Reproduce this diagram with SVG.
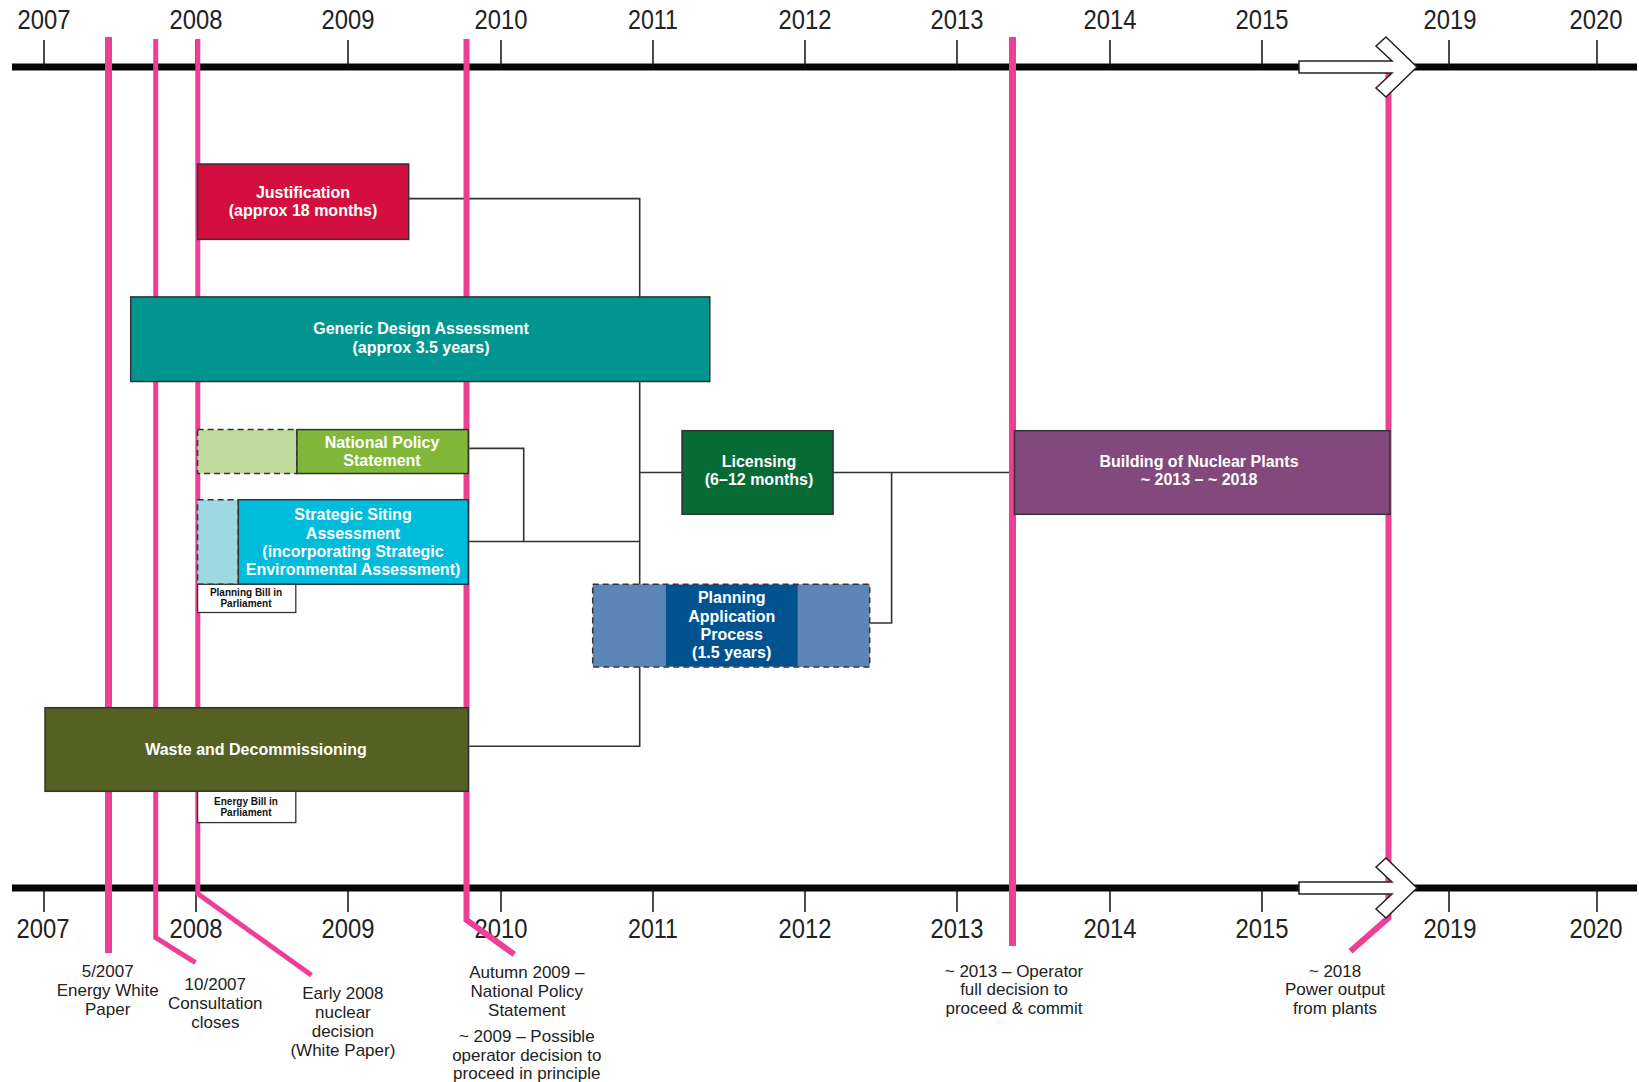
<svg xmlns="http://www.w3.org/2000/svg" width="1639" height="1082" viewBox="0 0 1639 1082">
<style>
.bar{fill:#050505}
.tick{stroke:#111;stroke-width:1.5}
.yr{font-family:"Liberation Sans",Arial,sans-serif;font-size:27px;fill:#222;text-anchor:middle}
.pink{stroke:#ec3f95;fill:none;stroke-linejoin:miter}
.conn{stroke:#333;stroke-width:1.6;fill:none}
.box{stroke:#333;stroke-width:1.5}
.dash{stroke:#333;stroke-width:1.5;stroke-dasharray:6 4}
.bt{font-family:"Liberation Sans",Arial,sans-serif;font-weight:bold;font-size:16px;fill:#fff;text-anchor:middle}
.st{font-family:"Liberation Sans",Arial,sans-serif;font-weight:bold;font-size:10px;fill:#111;text-anchor:middle}
.ann{font-family:"Liberation Sans",Arial,sans-serif;font-size:17px;fill:#222;text-anchor:middle}
.arrow{fill:#fff;stroke:#222;stroke-width:1.5;stroke-linejoin:miter}
</style>
<rect width="1639" height="1082" fill="#fff"/>

<g id="connectors">
<path class="conn" d="M408.7,198.6 H639.7 V746.3 H468.3"/>
<path class="conn" d="M639.7,472.5 H681.5"/>
<path class="conn" d="M468.3,448.4 H523.7 V541.5"/>
<path class="conn" d="M468.3,541.5 H639.7"/>
<path class="conn" d="M833.1,472.5 H1014"/>
<path class="conn" d="M869.7,623 H891.6 V472.5"/>
</g>

<g id="axis-top">
<rect class="bar" x="12" y="63.5" width="1625" height="7"/>
<path class="tick" d="M44,40V67M196,40V67M348,40V67M501,40V67M653,40V67M805,40V67M957,40V67M1110,40V67M1262,40V67M1449,40V67M1597,40V67"/>
<text class="yr" x="44" y="29" textLength="53" lengthAdjust="spacingAndGlyphs">2007</text>
<text class="yr" x="196" y="29" textLength="53" lengthAdjust="spacingAndGlyphs">2008</text>
<text class="yr" x="348" y="29" textLength="53" lengthAdjust="spacingAndGlyphs">2009</text>
<text class="yr" x="501" y="29" textLength="53" lengthAdjust="spacingAndGlyphs">2010</text>
<text class="yr" x="653" y="29" textLength="50" lengthAdjust="spacingAndGlyphs">2011</text>
<text class="yr" x="805" y="29" textLength="53" lengthAdjust="spacingAndGlyphs">2012</text>
<text class="yr" x="957" y="29" textLength="53" lengthAdjust="spacingAndGlyphs">2013</text>
<text class="yr" x="1110" y="29" textLength="53" lengthAdjust="spacingAndGlyphs">2014</text>
<text class="yr" x="1262" y="29" textLength="53" lengthAdjust="spacingAndGlyphs">2015</text>
<text class="yr" x="1450" y="29" textLength="53" lengthAdjust="spacingAndGlyphs">2019</text>
<text class="yr" x="1596" y="29" textLength="53" lengthAdjust="spacingAndGlyphs">2020</text>
</g>

<g id="axis-bottom">
<rect class="bar" x="12" y="884.5" width="1625" height="7"/>
<path class="tick" d="M44,888V912M196,888V912M348,888V912M501,888V912M653,888V912M805,888V912M957,888V912M1110,888V912M1262,888V912M1449,888V912M1597,888V912"/>
<text class="yr" x="43" y="938" textLength="53" lengthAdjust="spacingAndGlyphs">2007</text>
<text class="yr" x="196" y="938" textLength="53" lengthAdjust="spacingAndGlyphs">2008</text>
<text class="yr" x="348" y="938" textLength="53" lengthAdjust="spacingAndGlyphs">2009</text>
<text class="yr" x="501" y="938" textLength="53" lengthAdjust="spacingAndGlyphs">2010</text>
<text class="yr" x="653" y="938" textLength="50" lengthAdjust="spacingAndGlyphs">2011</text>
<text class="yr" x="805" y="938" textLength="53" lengthAdjust="spacingAndGlyphs">2012</text>
<text class="yr" x="957" y="938" textLength="53" lengthAdjust="spacingAndGlyphs">2013</text>
<text class="yr" x="1110" y="938" textLength="53" lengthAdjust="spacingAndGlyphs">2014</text>
<text class="yr" x="1262" y="938" textLength="53" lengthAdjust="spacingAndGlyphs">2015</text>
<text class="yr" x="1450" y="938" textLength="53" lengthAdjust="spacingAndGlyphs">2019</text>
<text class="yr" x="1596" y="938" textLength="53" lengthAdjust="spacingAndGlyphs">2020</text>
</g>

<g id="milestone-lines">
<path class="pink" stroke-width="7" d="M108.5,37V953"/>
<path class="pink" stroke-width="5" d="M155.7,39V937.6L195.5,962.7"/>
<path class="pink" stroke-width="5" d="M197.8,39V893.7L311.5,975.3"/>
<path class="pink" stroke-width="6" d="M466.5,39V919.9L514.3,954.4"/>
<path class="pink" stroke-width="7" d="M1012.5,37V946"/>
<path class="pink" stroke-width="6" d="M1388.5,67V917.8L1350.5,951.2"/>
</g>

<g id="arrow-top">
<polygon class="arrow" points="1299,61 1392,61 1376,46 1386,37 1417,67 1386,97 1376,88 1392,73 1299,73"/>
</g>
<g id="arrow-bottom">
<polygon class="arrow" points="1299,882 1392,882 1376,867 1386,858 1417,888 1386,918 1376,909 1392,894 1299,894"/>
</g>

<g id="justification">
<rect class="box" x="197.6" y="164" width="211.1" height="75.4" fill="#d20f3f"/>
<text class="bt" x="303" y="198">Justification</text>
<text class="bt" x="303" y="216">(approx 18 months)</text>
</g>

<g id="gda">
<rect class="box" x="130.7" y="296.9" width="579.1" height="84.6" fill="#00968f"/>
<text class="bt" x="421" y="334">Generic Design Assessment</text>
<text class="bt" x="421" y="353">(approx 3.5 years)</text>
</g>

<g id="nps">
<rect class="dash" x="197.6" y="429.6" width="99.3" height="43.9" fill="#c0da9b"/>
<rect class="box" x="296.9" y="429.6" width="171.4" height="43.9" fill="#82b83a"/>
<text class="bt" x="382" y="448">National Policy</text>
<text class="bt" x="382" y="466">Statement</text>
</g>

<g id="ssa">
<rect class="dash" x="197.6" y="499.7" width="40.7" height="84.6" fill="#9fd8e0"/>
<rect class="box" x="238.3" y="499.7" width="230" height="84.6" fill="#00bcdc"/>
<text class="bt" x="353" y="520">Strategic Siting</text>
<text class="bt" x="353" y="538.5">Assessment</text>
<text class="bt" x="353" y="557">(incorporating Strategic</text>
<text class="bt" x="353" y="575">Environmental Assessment)</text>
</g>

<g id="planning-bill">
<rect x="197.6" y="584.3" width="98.2" height="28.2" fill="#fff" stroke="#333" stroke-width="1.3"/>
<text class="st" x="246" y="596">Planning Bill in</text>
<text class="st" x="246" y="607">Parliament</text>
</g>

<g id="licensing">
<rect class="box" x="682" y="430.7" width="151.1" height="83.6" fill="#076b35"/>
<text class="bt" x="759" y="467">Licensing</text>
<text class="bt" x="759" y="485">(6–12 months)</text>
</g>

<g id="planning-application">
<rect class="dash" x="592.7" y="584.3" width="277" height="82.6" fill="#5c86b8"/>
<rect x="665.9" y="585" width="131.7" height="81.2" fill="#00538f"/>
<text class="bt" x="731.7" y="603">Planning</text>
<text class="bt" x="731.7" y="621.5">Application</text>
<text class="bt" x="731.7" y="640">Process</text>
<text class="bt" x="731.7" y="658">(1.5 years)</text>
</g>

<g id="building">
<rect class="box" x="1014.5" y="430.7" width="375.5" height="83.6" fill="#84497c"/>
<text class="bt" x="1199" y="467">Building of Nuclear Plants</text>
<text class="bt" x="1199" y="485">~ 2013 – ~ 2018</text>
</g>

<g id="waste">
<rect class="box" x="45" y="707.7" width="423.3" height="83.6" fill="#556122"/>
<text class="bt" x="256" y="755">Waste and Decommissioning</text>
</g>

<g id="energy-bill">
<rect x="197.6" y="791.3" width="98.2" height="31.3" fill="#fff" stroke="#333" stroke-width="1.3"/>
<text class="st" x="246" y="804.5">Energy Bill in</text>
<text class="st" x="246" y="815.5">Parliament</text>
</g>

<g id="annotations">
<text class="ann" x="107.7" y="977">5/2007</text>
<text class="ann" x="107.7" y="996">Energy White</text>
<text class="ann" x="107.7" y="1015">Paper</text>
<text class="ann" x="215.3" y="990">10/2007</text>
<text class="ann" x="215.3" y="1009">Consultation</text>
<text class="ann" x="215.3" y="1028">closes</text>
<text class="ann" x="342.9" y="999">Early 2008</text>
<text class="ann" x="342.9" y="1018">nuclear</text>
<text class="ann" x="342.9" y="1037">decision</text>
<text class="ann" x="342.9" y="1056">(White Paper)</text>
<text class="ann" x="526.8" y="978">Autumn 2009 –</text>
<text class="ann" x="526.8" y="997">National Policy</text>
<text class="ann" x="526.8" y="1016">Statement</text>
<text class="ann" x="526.8" y="1042">~ 2009 – Possible</text>
<text class="ann" x="526.8" y="1061">operator decision to</text>
<text class="ann" x="526.8" y="1079">proceed in principle</text>
<text class="ann" x="1014" y="977">~ 2013 – Operator</text>
<text class="ann" x="1014" y="995">full decision to</text>
<text class="ann" x="1014" y="1014">proceed &amp; commit</text>
<text class="ann" x="1335" y="977">~ 2018</text>
<text class="ann" x="1335" y="995">Power output</text>
<text class="ann" x="1335" y="1014">from plants</text>
</g>
</svg>
